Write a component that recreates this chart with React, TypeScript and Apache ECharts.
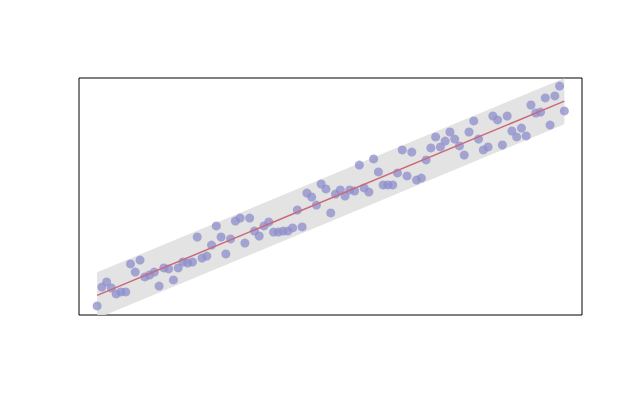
import { useEffect, useRef } from 'react';
import * as echarts from 'echarts';

// values, x is the sample index
const yValues = [
  4.6, 14.2, 16.8, 13.7, 10.7, 11.7, 11.7, 25.9, 21.8, 27.9,
  19.3, 20.3, 21.8, 14.7, 23.9, 23.4, 17.8, 23.9, 26.9, 26.4,
  26.9, 39.6, 28.9, 29.9, 35.5, 45.2, 39.6, 31.0, 38.6, 47.7,
  49.2, 36.5, 49.2, 42.6, 40.1, 45.2, 47.2, 42.1, 42.1, 42.6,
  42.6, 44.2, 53.3, 44.7, 61.9, 59.9, 55.8, 66.5, 64.0, 51.8,
  61.4, 63.5, 60.4, 63.5, 62.9, 76.1, 64.5, 62.4, 79.2, 72.6,
  66.0, 66.0, 66.0, 72.1, 83.8, 70.6, 82.7, 68.5, 69.5, 78.7,
  84.8, 90.4, 85.3, 88.3, 92.9, 89.3, 85.8, 81.2, 92.9, 98.5,
  89.3, 83.8, 85.3, 101.0, 99.0, 86.3, 101.0, 93.4, 90.4, 94.9,
  90.9, 106.6, 102.5, 103.0, 110.2, 96.4, 111.2, 116.2, 103.6,
];
const xValues = yValues.map((_, i) => i);

// half width of the grey band, in y units
const bandHalf = 11.7;

const fit = () => {
  const n = xValues.length;
  const mx = xValues.reduce((a, b) => a + b, 0) / n;
  const my = yValues.reduce((a, b) => a + b, 0) / n;
  let sxy = 0;
  let sxx = 0;
  for (let i = 0; i < n; i++) {
    sxy += (xValues[i] - mx) * (yValues[i] - my);
    sxx += (xValues[i] - mx) ** 2;
  }
  const slope = sxy / sxx;
  return { slope, intercept: my - slope * mx };
};

const App = () => {
  const chartRef = useRef(null);

  useEffect(() => {
    document.body.style.margin = '0';
    if (!chartRef.current) return;
    const chart = echarts.init(chartRef.current, null, { renderer: 'svg' });

    const { slope, intercept } = fit();
    const x0 = xValues[0];
    const x1 = xValues[xValues.length - 1];
    const lineData = [
      [x0, intercept + slope * x0],
      [x1, intercept + slope * x1],
    ];
    const bandData = lineData.map(([x, y]) => [x, y - bandHalf, y + bandHalf]);

    const hidden = {
      axisLine: { show: false },
      axisTick: { show: false },
      axisLabel: { show: false },
      splitLine: { show: false },
    };

    chart.setOption({
      animation: false,
      grid: {
        show: true,
        left: 79,
        top: 78,
        right: 41,
        bottom: 98,
        borderColor: '#000',
        borderWidth: 1,
        backgroundColor: 'transparent',
      },
      xAxis: { type: 'value', min: -3.8, max: 101.7, ...hidden },
      yAxis: { type: 'value', min: 0, max: 120.3, ...hidden },
      series: [
        {
          type: 'custom',
          clip: true,
          z: 1,
          data: bandData,
          renderItem: (params: any, api: any) => {
            if (params.dataIndex !== 0) return null;
            const lower = bandData.map((d) => api.coord([d[0], d[1]]));
            const upper = bandData.map((d) => api.coord([d[0], d[2]])).reverse();
            return {
              type: 'polygon',
              shape: { points: [...lower, ...upper] },
              style: { fill: '#e0e0e0', opacity: 0.9 },
            };
          },
        },
        {
          type: 'scatter',
          z: 2,
          symbolSize: 9,
          data: xValues.map((x, i) => [x, yValues[i]]),
          itemStyle: { color: '#8e8ecc', opacity: 0.75 },
        },
        {
          type: 'line',
          z: 3,
          symbol: 'none',
          data: lineData,
          lineStyle: { color: '#c96a7c', width: 1.5 },
        },
      ],
    });

    return () => chart.dispose();
  }, []);

  return <div ref={chartRef} style={{ width: 623, height: 413 }} />;
};

export default App;
